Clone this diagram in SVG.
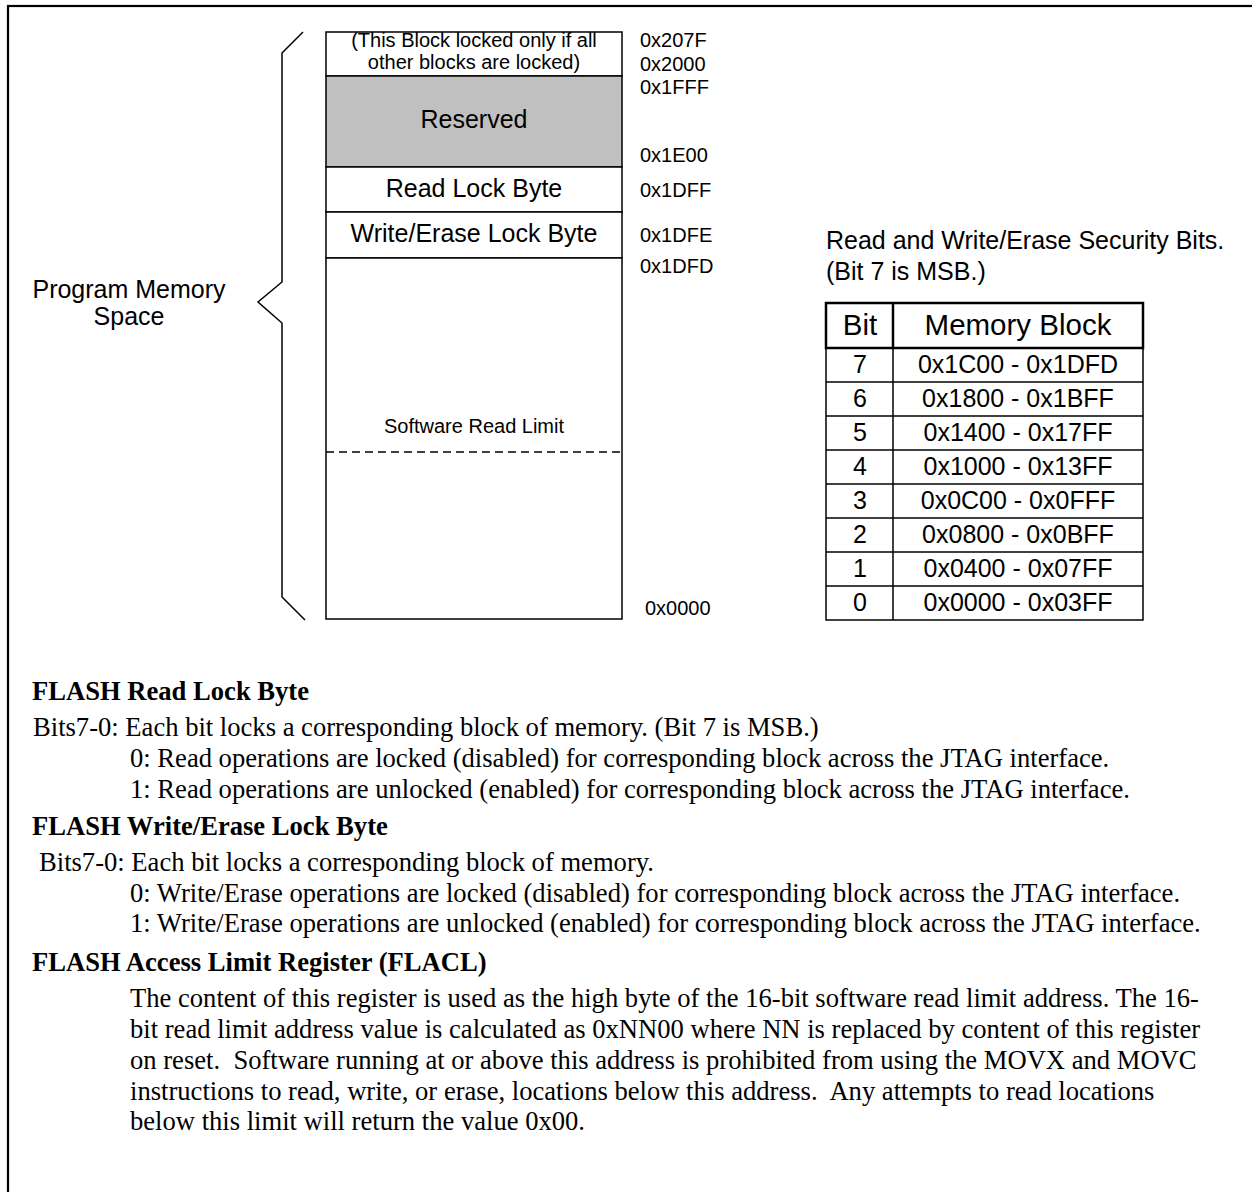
<svg xmlns="http://www.w3.org/2000/svg" width="1252" height="1192" viewBox="0 0 1252 1192">
<style>
.s{font-family:"Liberation Sans",Arial,sans-serif;fill:#000}
.sm{font-size:20px}
.md{font-size:25px}
.hd{font-size:29.5px}
.c{text-anchor:middle}
.t{font-family:"Liberation Serif","Times New Roman",serif;font-size:26.6px;fill:#000;white-space:pre}
.b{font-weight:bold}
.ln{fill:none;stroke:#000;stroke-width:1.5}
.box{fill:#fff;stroke:#000;stroke-width:1.5}
.gray{fill:#c0c0c0;stroke:#000;stroke-width:1.5}
</style>
<rect x="8" y="6" width="1270" height="1210" fill="#fff" stroke="#000" stroke-width="2.2"/>

<g id="connectors">
<path id="brace" class="ln" d="M303,32 L282,53 L282,282 L258,302 L282,323 L282,597 L305,620"/>
</g>

<g id="label-program-memory">
<text class="s md c" x="129" y="298">Program Memory</text>
<text class="s md c" x="129" y="325">Space</text>
</g>

<g id="memory-map">
<g id="block-top">
<rect class="box" x="326" y="32" width="296" height="44"/>
<text class="s sm c" x="474" y="47">(This Block locked only if all</text>
<text class="s sm c" x="474" y="69">other blocks are locked)</text>
</g>
<g id="block-reserved">
<rect class="gray" x="326" y="76" width="296" height="91"/>
<text class="s md c" x="474" y="128">Reserved</text>
</g>
<g id="block-read-lock">
<rect class="box" x="326" y="167" width="296" height="45"/>
<text class="s md c" x="474" y="197">Read Lock Byte</text>
</g>
<g id="block-write-lock">
<rect class="box" x="326" y="212" width="296" height="46"/>
<text class="s md c" x="474" y="242">Write/Erase Lock Byte</text>
</g>
<g id="block-program">
<rect class="box" x="326" y="258" width="296" height="361"/>
<text class="s sm c" x="474" y="433">Software Read Limit</text>
<line x1="326" y1="452" x2="622" y2="452" stroke="#000" stroke-width="1.5" stroke-dasharray="8,5"/>
</g>
</g>

<g id="addresses">
<text class="s sm" x="640" y="47">0x207F</text>
<text class="s sm" x="640" y="71">0x2000</text>
<text class="s sm" x="640" y="94">0x1FFF</text>
<text class="s sm" x="640" y="162">0x1E00</text>
<text class="s sm" x="640" y="197">0x1DFF</text>
<text class="s sm" x="640" y="242">0x1DFE</text>
<text class="s sm" x="640" y="273">0x1DFD</text>
<text class="s sm" x="645" y="615">0x0000</text>
</g>

<g id="security-table">
<text class="s md" x="826" y="249">Read and Write/Erase Security Bits.</text>
<text class="s md" x="826" y="280">(Bit 7 is MSB.)</text>
<rect x="826" y="303" width="317" height="45" fill="none" stroke="#000" stroke-width="2.5"/>
<line x1="893" y1="303" x2="893" y2="348" stroke="#000" stroke-width="2.5"/>
<text class="s hd c" x="860" y="335">Bit</text>
<text class="s hd c" x="1018" y="335">Memory Block</text>
<rect class="ln" x="826" y="348" width="317" height="272"/>
<line class="ln" x1="893" y1="348" x2="893" y2="620"/>
<line class="ln" x1="826" y1="382" x2="1143" y2="382"/>
<line class="ln" x1="826" y1="416" x2="1143" y2="416"/>
<line class="ln" x1="826" y1="450" x2="1143" y2="450"/>
<line class="ln" x1="826" y1="484" x2="1143" y2="484"/>
<line class="ln" x1="826" y1="518" x2="1143" y2="518"/>
<line class="ln" x1="826" y1="552" x2="1143" y2="552"/>
<line class="ln" x1="826" y1="586" x2="1143" y2="586"/>
<text class="s md c" x="860" y="373">7</text><text class="s md c" x="1018" y="373">0x1C00 - 0x1DFD</text>
<text class="s md c" x="860" y="407">6</text><text class="s md c" x="1018" y="407">0x1800 - 0x1BFF</text>
<text class="s md c" x="860" y="441">5</text><text class="s md c" x="1018" y="441">0x1400 - 0x17FF</text>
<text class="s md c" x="860" y="475">4</text><text class="s md c" x="1018" y="475">0x1000 - 0x13FF</text>
<text class="s md c" x="860" y="509">3</text><text class="s md c" x="1018" y="509">0x0C00 - 0x0FFF</text>
<text class="s md c" x="860" y="543">2</text><text class="s md c" x="1018" y="543">0x0800 - 0x0BFF</text>
<text class="s md c" x="860" y="577">1</text><text class="s md c" x="1018" y="577">0x0400 - 0x07FF</text>
<text class="s md c" x="860" y="611">0</text><text class="s md c" x="1018" y="611">0x0000 - 0x03FF</text>
</g>

<g id="description">
<text class="t b" x="32" y="700">FLASH Read Lock Byte</text>
<text class="t" x="33" y="736">Bits7-0: Each bit locks a corresponding block of memory. (Bit 7 is MSB.)</text>
<text class="t" x="130" y="767">0: Read operations are locked (disabled) for corresponding block across the JTAG interface.</text>
<text class="t" x="130" y="798">1: Read operations are unlocked (enabled) for corresponding block across the JTAG interface.</text>
<text class="t b" x="32" y="835">FLASH Write/Erase Lock Byte</text>
<text class="t" x="39" y="871">Bits7-0: Each bit locks a corresponding block of memory.</text>
<text class="t" x="130" y="902">0: Write/Erase operations are locked (disabled) for corresponding block across the JTAG interface.</text>
<text class="t" x="130" y="932">1: Write/Erase operations are unlocked (enabled) for corresponding block across the JTAG interface.</text>
<text class="t b" x="32" y="971">FLASH Access Limit Register (FLACL)</text>
<text class="t" x="130" y="1007">The content of this register is used as the high byte of the 16-bit software read limit address. The 16-</text>
<text class="t" x="130" y="1038">bit read limit address value is calculated as 0xNN00 where NN is replaced by content of this register</text>
<text class="t" x="130" y="1069">on reset.  Software running at or above this address is prohibited from using the MOVX and MOVC</text>
<text class="t" x="130" y="1100">instructions to read, write, or erase, locations below this address.  Any attempts to read locations</text>
<text class="t" x="130" y="1130">below this limit will return the value 0x00.</text>
</g>
</svg>
